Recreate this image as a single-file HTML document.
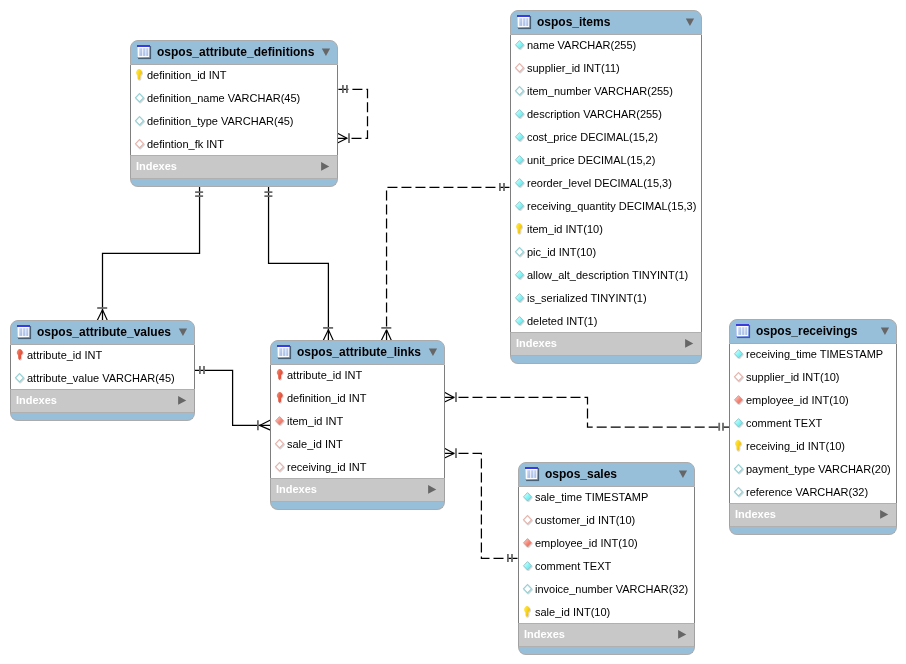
<!DOCTYPE html>
<html><head><meta charset="utf-8"><title>ER diagram</title>
<style>
html,body{margin:0;padding:0;background:#fff;}
body{width:906px;height:664px;overflow:hidden;font-family:"Liberation Sans",sans-serif;}
#cv{position:relative;width:906px;height:664px;overflow:hidden;background:#fff;}
#cn{position:absolute;left:0;top:0;}
.tb{will-change:transform;position:absolute;box-sizing:border-box;}
.hd{height:25px;box-sizing:border-box;position:relative;border:1px solid #ababab;border-radius:8px 8px 0 0;background:#98bfda;}
.ti{position:absolute;left:5px;top:3px;}
.nm{position:absolute;left:26px;top:3px;font-weight:bold;font-size:12px;line-height:16px;color:#000;white-space:nowrap;}
.tri{position:absolute;right:4px;top:6px;}
.bd{background:#fff;overflow:hidden;border-left:1px solid #7e7e7e;border-right:1px solid #7e7e7e;}
.rw{height:23px;position:relative;font-size:11px;line-height:23px;color:#000;white-space:nowrap;}
.rw span{position:absolute;left:16px;top:-1px;}
.ic{position:absolute;left:2px;top:3px;}
.ix{height:24px;background:#c8c8c8;position:relative;border:1px solid #b0b0b0;border-left-color:#a2a2a2;border-right-color:#a2a2a2;box-sizing:border-box;}
.ix span{position:absolute;left:5px;top:3px;font-size:11px;line-height:14px;font-weight:bold;color:#fff;}
.ix svg{position:absolute;right:4px;top:5px;}
.ft{height:8px;box-sizing:border-box;border:1px solid #ababab;border-top:0;border-radius:0 0 8px 8px;background:#98bfda;}

</style></head>
<body>
<svg width="0" height="0" style="position:absolute">
<defs>
<filter id="sh" x="-30%" y="-30%" width="170%" height="170%"><feDropShadow dx="0.7" dy="0.8" stdDeviation="0.6" flood-color="#203040" flood-opacity="0.28"/></filter>
<linearGradient id="gy" x1="0" y1="0" x2="1" y2="0.6"><stop offset="0" stop-color="#ffec50"/><stop offset="0.5" stop-color="#fbd820"/><stop offset="1" stop-color="#f0b800"/></linearGradient>
<linearGradient id="gr" x1="0" y1="0" x2="1" y2="0.6"><stop offset="0" stop-color="#f59880"/><stop offset="0.5" stop-color="#ea6048"/><stop offset="1" stop-color="#dc4630"/></linearGradient>
<linearGradient id="gcf" x1="0.15" y1="0.15" x2="0.85" y2="0.85"><stop offset="0" stop-color="#d4ffff"/><stop offset="0.55" stop-color="#84f4f6"/><stop offset="1" stop-color="#6ce4ea"/></linearGradient>
<linearGradient id="grf" x1="0.15" y1="0.15" x2="0.85" y2="0.85"><stop offset="0" stop-color="#ffc8c0"/><stop offset="0.55" stop-color="#f48878"/><stop offset="1" stop-color="#e86858"/></linearGradient>
<linearGradient id="gto" x1="0" y1="0" x2="1" y2="1"><stop offset="0" stop-color="#b4c8f6"/><stop offset="1" stop-color="#5e7adc"/></linearGradient>
<linearGradient id="gtb" x1="0" y1="0" x2="1" y2="1"><stop offset="0" stop-color="#d0dcf2"/><stop offset="1" stop-color="#a0b8e6"/></linearGradient>
<path id="key" d="M6 1 C7.3 1.1 9 2.9 9 4.4 C9 5.5 8.2 6.3 7.4 6.9 L7.25 10.5 L5.9 12 L4.55 10.5 L4.4 6.9 C3.7 6.3 3.1 5.5 3.1 4.4 C3.1 2.9 4.7 1.1 6 1 Z"/>
<path id="dia" d="M6.5 2.6 L10.5 6.8 L6.5 11 L2.5 6.8 Z"/>
<g id="tbl">
<rect x="2.1" y="2.1" width="13" height="13" fill="#34485c" opacity=".8"/>
<rect x="1" y="1" width="13" height="13" fill="url(#gto)"/>
<rect x="1.6" y="3" width="11.6" height="10.1" fill="#fafcff"/>
<rect x="3.2" y="4.2" width="3" height="7.7" fill="url(#gtb)"/>
<rect x="6.9" y="4.2" width="2.5" height="7.7" fill="url(#gtb)"/>
<rect x="10.1" y="4.2" width="2.1" height="7.7" fill="url(#gtb)"/>
<rect x="1" y="1" width="13" height="2" fill="#3c3cdc"/>
</g>
</defs>
</svg>

<div id="cv">
<svg id="cn" width="906" height="664" viewBox="0 0 906 664" fill="none">
<g stroke="#000" stroke-width="1.25">
<path d="M199.55 186 V253.4 H102.5 V321"/>
<path d="M268.55 186 V263.35 H328.4 V341"/>
<path d="M194 370.4 H232.6 V425.4 H271"/>
</g>
<g stroke="#000" stroke-width="1.25" stroke-dasharray="10 4">
<path d="M337.5 138.3 H367.5 V89.4 H337.5"/>
<path d="M386.55 340.5 V187.4 H510.5"/>
<path d="M444.5 397.4 H587.5 V427.2 H729.5"/>
<path d="M444.5 453.4 H481.4 V558.4 H518.5"/>
</g>
<g stroke="#6a6a6a" stroke-width="1.8">
<path d="M342.9 85V93 M346.9 85V93"/>
<path d="M195.1 192.1H203.1 M195.1 196.2H203.1"/>
<path d="M264.4 192.1H272.4 M264.4 196.2H272.4"/>
<path d="M499.9 183V191 M504 183V191"/>
<path d="M199.9 366V374 M204 366V374"/>
<path d="M719.2 422.8V430.8 M723 422.8V430.8"/>
<path d="M507.9 554V562 M512 554V562"/>
<path d="M349 133.2V142.9"/>
<path d="M97.2 308H107.2"/>
<path d="M323.1 327.9H333.1"/>
<path d="M381.3 327.9H391.3"/>
<path d="M257.9 420.2V430.2"/>
<path d="M456 392.3V402.1"/>
<path d="M456 448.3V458.1"/>
</g>
<g stroke="#000" stroke-width="1.15">
<path d="M347 138.3L337.5 133.2 M347 138.3L337.5 143"/>
<path d="M102.5 309.7L97.2 320.5 M102.5 309.7L107.4 320.5"/>
<path d="M328.4 329.7L323.2 340.5 M328.4 329.7L333.3 340.5"/>
<path d="M386.55 329.7L381.3 340.5 M386.55 329.7L391.4 340.5"/>
<path d="M259.6 425.4L270.5 420.1 M259.6 425.4L270.5 430.1"/>
<path d="M454.1 397.4L444.5 392.2 M454.1 397.4L444.5 402.1"/>
<path d="M454.1 453.4L444.5 448.2 M454.1 453.4L444.5 458.1"/>
</g>
</svg>

<div class="tb" style="left:130px;top:40px;width:208px;height:147px">
<div class="hd"><svg class="ti" width="16" height="16" viewBox="0 0 16 16"><use href="#tbl"/></svg><span class="nm">ospos_attribute_definitions</span><svg class="tri" width="14" height="12" viewBox="0 0 14 12"><path d="M2.8 1.5H11.1L6.95 9Z" fill="#666"/></svg></div>
<div class="bd" style="height:90px">
<div class="rw"><svg class="ic" width="14" height="15" viewBox="0 0 14 15"><use href="#key" fill="url(#gy)" filter="url(#sh)"/></svg><span>definition_id INT</span></div>
<div class="rw"><svg class="ic" width="14" height="15" viewBox="0 0 14 15"><use href="#dia" fill="#fff" stroke="#94d0d4" stroke-width="1.1" filter="url(#sh)"/></svg><span>definition_name VARCHAR(45)</span></div>
<div class="rw"><svg class="ic" width="14" height="15" viewBox="0 0 14 15"><use href="#dia" fill="#fff" stroke="#94d0d4" stroke-width="1.1" filter="url(#sh)"/></svg><span>definition_type VARCHAR(45)</span></div>
<div class="rw"><svg class="ic" width="14" height="15" viewBox="0 0 14 15"><use href="#dia" fill="#fff" stroke="#e4b4ac" stroke-width="1.1" filter="url(#sh)"/></svg><span>defintion_fk INT</span></div>
</div>
<div class="ix"><span>Indexes</span><svg width="14" height="12" viewBox="0 0 14 12"><path d="M2.1 1V9.8L10.25 5.4Z" fill="#666"/></svg></div>
<div class="ft"></div>
</div>
<div class="tb" style="left:510px;top:10px;width:192px;height:354px">
<div class="hd"><svg class="ti" width="16" height="16" viewBox="0 0 16 16"><use href="#tbl"/></svg><span class="nm">ospos_items</span><svg class="tri" width="14" height="12" viewBox="0 0 14 12"><path d="M2.8 1.5H11.1L6.95 9Z" fill="#666"/></svg></div>
<div class="bd" style="height:297px">
<div class="rw"><svg class="ic" width="14" height="15" viewBox="0 0 14 15"><use href="#dia" fill="url(#gcf)" stroke="#82bcc0" stroke-width="0.8" filter="url(#sh)"/></svg><span>name VARCHAR(255)</span></div>
<div class="rw"><svg class="ic" width="14" height="15" viewBox="0 0 14 15"><use href="#dia" fill="#fff" stroke="#e4b4ac" stroke-width="1.1" filter="url(#sh)"/></svg><span>supplier_id INT(11)</span></div>
<div class="rw"><svg class="ic" width="14" height="15" viewBox="0 0 14 15"><use href="#dia" fill="#fff" stroke="#94d0d4" stroke-width="1.1" filter="url(#sh)"/></svg><span>item_number VARCHAR(255)</span></div>
<div class="rw"><svg class="ic" width="14" height="15" viewBox="0 0 14 15"><use href="#dia" fill="url(#gcf)" stroke="#82bcc0" stroke-width="0.8" filter="url(#sh)"/></svg><span>description VARCHAR(255)</span></div>
<div class="rw"><svg class="ic" width="14" height="15" viewBox="0 0 14 15"><use href="#dia" fill="url(#gcf)" stroke="#82bcc0" stroke-width="0.8" filter="url(#sh)"/></svg><span>cost_price DECIMAL(15,2)</span></div>
<div class="rw"><svg class="ic" width="14" height="15" viewBox="0 0 14 15"><use href="#dia" fill="url(#gcf)" stroke="#82bcc0" stroke-width="0.8" filter="url(#sh)"/></svg><span>unit_price DECIMAL(15,2)</span></div>
<div class="rw"><svg class="ic" width="14" height="15" viewBox="0 0 14 15"><use href="#dia" fill="url(#gcf)" stroke="#82bcc0" stroke-width="0.8" filter="url(#sh)"/></svg><span>reorder_level DECIMAL(15,3)</span></div>
<div class="rw"><svg class="ic" width="14" height="15" viewBox="0 0 14 15"><use href="#dia" fill="url(#gcf)" stroke="#82bcc0" stroke-width="0.8" filter="url(#sh)"/></svg><span>receiving_quantity DECIMAL(15,3)</span></div>
<div class="rw"><svg class="ic" width="14" height="15" viewBox="0 0 14 15"><use href="#key" fill="url(#gy)" filter="url(#sh)"/></svg><span>item_id INT(10)</span></div>
<div class="rw"><svg class="ic" width="14" height="15" viewBox="0 0 14 15"><use href="#dia" fill="#fff" stroke="#94d0d4" stroke-width="1.1" filter="url(#sh)"/></svg><span>pic_id INT(10)</span></div>
<div class="rw"><svg class="ic" width="14" height="15" viewBox="0 0 14 15"><use href="#dia" fill="url(#gcf)" stroke="#82bcc0" stroke-width="0.8" filter="url(#sh)"/></svg><span>allow_alt_description TINYINT(1)</span></div>
<div class="rw"><svg class="ic" width="14" height="15" viewBox="0 0 14 15"><use href="#dia" fill="url(#gcf)" stroke="#82bcc0" stroke-width="0.8" filter="url(#sh)"/></svg><span>is_serialized TINYINT(1)</span></div>
<div class="rw"><svg class="ic" width="14" height="15" viewBox="0 0 14 15"><use href="#dia" fill="url(#gcf)" stroke="#82bcc0" stroke-width="0.8" filter="url(#sh)"/></svg><span>deleted INT(1)</span></div>
</div>
<div class="ix"><span>Indexes</span><svg width="14" height="12" viewBox="0 0 14 12"><path d="M2.1 1V9.8L10.25 5.4Z" fill="#666"/></svg></div>
<div class="ft"></div>
</div>
<div class="tb" style="left:10px;top:320px;width:185px;height:101px">
<div class="hd"><svg class="ti" width="16" height="16" viewBox="0 0 16 16"><use href="#tbl"/></svg><span class="nm">ospos_attribute_values</span><svg class="tri" width="14" height="12" viewBox="0 0 14 12"><path d="M2.8 1.5H11.1L6.95 9Z" fill="#666"/></svg></div>
<div class="bd" style="height:44px">
<div class="rw"><svg class="ic" width="14" height="15" viewBox="0 0 14 15"><use href="#key" fill="url(#gr)" filter="url(#sh)" transform="translate(0.7 0)"/></svg><span>attribute_id INT</span></div>
<div class="rw"><svg class="ic" width="14" height="15" viewBox="0 0 14 15"><use href="#dia" fill="#fff" stroke="#94d0d4" stroke-width="1.1" filter="url(#sh)"/></svg><span>attribute_value VARCHAR(45)</span></div>
</div>
<div class="ix"><span>Indexes</span><svg width="14" height="12" viewBox="0 0 14 12"><path d="M2.1 1V9.8L10.25 5.4Z" fill="#666"/></svg></div>
<div class="ft"></div>
</div>
<div class="tb" style="left:270px;top:340px;width:175px;height:170px">
<div class="hd"><svg class="ti" width="16" height="16" viewBox="0 0 16 16"><use href="#tbl"/></svg><span class="nm">ospos_attribute_links</span><svg class="tri" width="14" height="12" viewBox="0 0 14 12"><path d="M2.8 1.5H11.1L6.95 9Z" fill="#666"/></svg></div>
<div class="bd" style="height:113px">
<div class="rw"><svg class="ic" width="14" height="15" viewBox="0 0 14 15"><use href="#key" fill="url(#gr)" filter="url(#sh)" transform="translate(0.7 0)"/></svg><span>attribute_id INT</span></div>
<div class="rw"><svg class="ic" width="14" height="15" viewBox="0 0 14 15"><use href="#key" fill="url(#gr)" filter="url(#sh)" transform="translate(0.7 0)"/></svg><span>definition_id INT</span></div>
<div class="rw"><svg class="ic" width="14" height="15" viewBox="0 0 14 15"><use href="#dia" fill="url(#grf)" stroke="#cc948c" stroke-width="0.8" filter="url(#sh)"/></svg><span>item_id INT</span></div>
<div class="rw"><svg class="ic" width="14" height="15" viewBox="0 0 14 15"><use href="#dia" fill="#fff" stroke="#e4b4ac" stroke-width="1.1" filter="url(#sh)"/></svg><span>sale_id INT</span></div>
<div class="rw"><svg class="ic" width="14" height="15" viewBox="0 0 14 15"><use href="#dia" fill="#fff" stroke="#e4b4ac" stroke-width="1.1" filter="url(#sh)"/></svg><span>receiving_id INT</span></div>
</div>
<div class="ix"><span>Indexes</span><svg width="14" height="12" viewBox="0 0 14 12"><path d="M2.1 1V9.8L10.25 5.4Z" fill="#666"/></svg></div>
<div class="ft"></div>
</div>
<div class="tb" style="left:518px;top:462px;width:177px;height:193px">
<div class="hd"><svg class="ti" width="16" height="16" viewBox="0 0 16 16"><use href="#tbl"/></svg><span class="nm">ospos_sales</span><svg class="tri" width="14" height="12" viewBox="0 0 14 12"><path d="M2.8 1.5H11.1L6.95 9Z" fill="#666"/></svg></div>
<div class="bd" style="height:136px">
<div class="rw"><svg class="ic" width="14" height="15" viewBox="0 0 14 15"><use href="#dia" fill="url(#gcf)" stroke="#82bcc0" stroke-width="0.8" filter="url(#sh)"/></svg><span>sale_time TIMESTAMP</span></div>
<div class="rw"><svg class="ic" width="14" height="15" viewBox="0 0 14 15"><use href="#dia" fill="#fff" stroke="#e4b4ac" stroke-width="1.1" filter="url(#sh)"/></svg><span>customer_id INT(10)</span></div>
<div class="rw"><svg class="ic" width="14" height="15" viewBox="0 0 14 15"><use href="#dia" fill="url(#grf)" stroke="#cc948c" stroke-width="0.8" filter="url(#sh)"/></svg><span>employee_id INT(10)</span></div>
<div class="rw"><svg class="ic" width="14" height="15" viewBox="0 0 14 15"><use href="#dia" fill="url(#gcf)" stroke="#82bcc0" stroke-width="0.8" filter="url(#sh)"/></svg><span>comment TEXT</span></div>
<div class="rw"><svg class="ic" width="14" height="15" viewBox="0 0 14 15"><use href="#dia" fill="#fff" stroke="#94d0d4" stroke-width="1.1" filter="url(#sh)"/></svg><span>invoice_number VARCHAR(32)</span></div>
<div class="rw"><svg class="ic" width="14" height="15" viewBox="0 0 14 15"><use href="#key" fill="url(#gy)" filter="url(#sh)"/></svg><span>sale_id INT(10)</span></div>
</div>
<div class="ix"><span>Indexes</span><svg width="14" height="12" viewBox="0 0 14 12"><path d="M2.1 1V9.8L10.25 5.4Z" fill="#666"/></svg></div>
<div class="ft"></div>
</div>
<div class="tb" style="left:729px;top:319px;width:168px;height:216px">
<div class="hd"><svg class="ti" width="16" height="16" viewBox="0 0 16 16"><use href="#tbl"/></svg><span class="nm">ospos_receivings</span><svg class="tri" width="14" height="12" viewBox="0 0 14 12"><path d="M2.8 1.5H11.1L6.95 9Z" fill="#666"/></svg></div>
<div class="bd" style="height:159px">
<div class="rw"><svg class="ic" width="14" height="15" viewBox="0 0 14 15"><use href="#dia" fill="url(#gcf)" stroke="#82bcc0" stroke-width="0.8" filter="url(#sh)"/></svg><span>receiving_time TIMESTAMP</span></div>
<div class="rw"><svg class="ic" width="14" height="15" viewBox="0 0 14 15"><use href="#dia" fill="#fff" stroke="#e4b4ac" stroke-width="1.1" filter="url(#sh)"/></svg><span>supplier_id INT(10)</span></div>
<div class="rw"><svg class="ic" width="14" height="15" viewBox="0 0 14 15"><use href="#dia" fill="url(#grf)" stroke="#cc948c" stroke-width="0.8" filter="url(#sh)"/></svg><span>employee_id INT(10)</span></div>
<div class="rw"><svg class="ic" width="14" height="15" viewBox="0 0 14 15"><use href="#dia" fill="url(#gcf)" stroke="#82bcc0" stroke-width="0.8" filter="url(#sh)"/></svg><span>comment TEXT</span></div>
<div class="rw"><svg class="ic" width="14" height="15" viewBox="0 0 14 15"><use href="#key" fill="url(#gy)" filter="url(#sh)"/></svg><span>receiving_id INT(10)</span></div>
<div class="rw"><svg class="ic" width="14" height="15" viewBox="0 0 14 15"><use href="#dia" fill="#fff" stroke="#94d0d4" stroke-width="1.1" filter="url(#sh)"/></svg><span>payment_type VARCHAR(20)</span></div>
<div class="rw"><svg class="ic" width="14" height="15" viewBox="0 0 14 15"><use href="#dia" fill="#fff" stroke="#94d0d4" stroke-width="1.1" filter="url(#sh)"/></svg><span>reference VARCHAR(32)</span></div>
</div>
<div class="ix"><span>Indexes</span><svg width="14" height="12" viewBox="0 0 14 12"><path d="M2.1 1V9.8L10.25 5.4Z" fill="#666"/></svg></div>
<div class="ft"></div>
</div>
</div>
</body></html>
